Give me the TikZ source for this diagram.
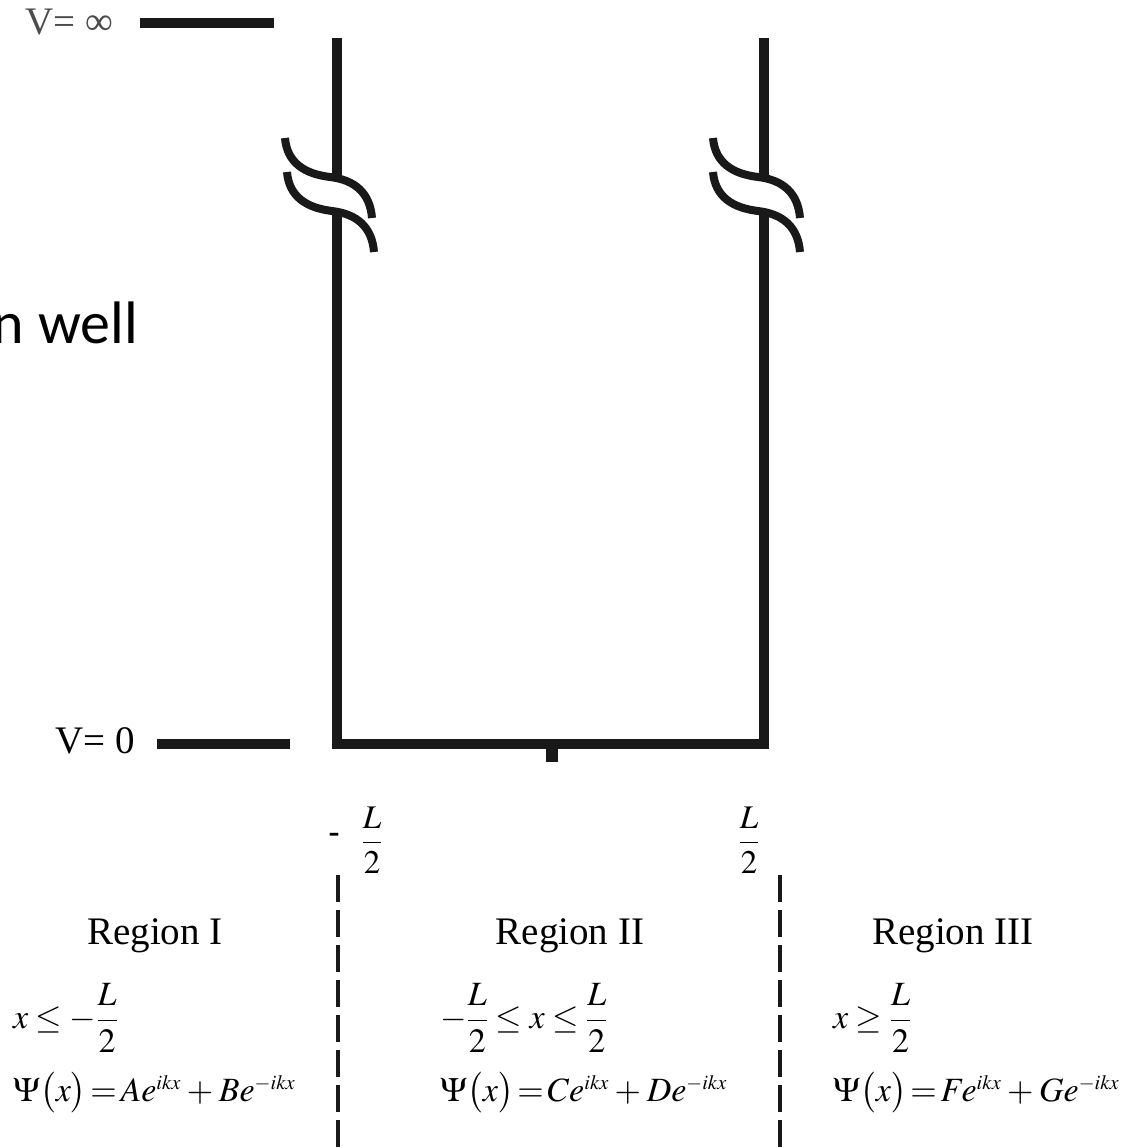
\documentclass[tikz,border=0pt]{standalone}
\usepackage{mathptmx}
\usepackage[no-math]{fontspec}
\setmainfont{Liberation Serif}
\newfontfamily\calibri{Carlito}
\newcommand{\wavefn}[2]{$\thickmuskip=2mu\medmuskip=3mu\Psi\bigl(x\bigr)=#1e^{\scriptscriptstyle ikx}+#2e^{\scriptscriptstyle -ikx}$}
\begin{document}
\begin{tikzpicture}[x=1pt,y=1pt,
  wall/.style={line width=10.5pt, draw=black!90},
  brkline/.style={line width=8pt, draw=black!90},
  lbl/.style={inner sep=0pt, font=\fontsize{39}{46}\selectfont},
  fraclbl/.style={inner sep=0pt, font=\fontsize{33}{40}\selectfont},
  eq/.style={inner sep=0pt, anchor=west, font=\fontsize{34}{40}\selectfont},
  divider/.style={line width=4pt, draw=black!90, dash pattern=on 27pt off 8pt},
  brk/.pic={\draw[brkline] (0,0) .. controls (2,-25) and (20,-36) .. (45,-39) .. controls (70,-42) and (85,-55) .. (87,-80);}
]
\useasboundingbox (0,0) rectangle (1121,-1148);
\clip (0,0) rectangle (1121,-1148);

% title fragment
\node[font=\calibri\fontsize{60}{72}\selectfont, anchor=base east, inner sep=0pt] (title) at (138,-343) {n well};

% potential level labels
\node[lbl, anchor=west, text=black!70] (vinf) at (25,-22) {V= ∞};
\coordinate (vinfA) at (140,-23);
\coordinate (vinfB) at (274,-23);
\draw[wall] (vinfA) -- (vinfB);

\node[lbl, anchor=west] (vzero) at (55,-741) {V= 0};
\coordinate (vzeroA) at (157,-744);
\coordinate (vzeroB) at (290,-744);
\draw[wall] (vzeroA) -- (vzeroB);

% walls
\coordinate (TL) at (337,-38);
\coordinate (TLb) at (337,-176);
\coordinate (BLa) at (337,-212);
\coordinate (BL) at (337,-744);
\coordinate (BR) at (764,-744);
\coordinate (BRa) at (764,-212);
\coordinate (TRb) at (764,-176);
\coordinate (TR) at (764,-38);
\draw[wall] (TL) -- (TLb);
\draw[wall] (TR) -- (TRb);
\draw[wall] (BLa) -- (BL) -- (BR) -- (BRa);

% centre tick
\coordinate (tickA) at (552,-744);
\coordinate (tickB) at (552,-762);
\draw[line width=12pt, draw=black!90] (tickA) -- (tickB);

% break marks
\pic at (285,-138) {brk};
\pic at (287,-172) {brk};
\pic at (713,-138) {brk};
\pic at (713,-172) {brk};

% positions -L/2 and L/2
\node[fraclbl] (minus) at (334,-838) {\textbf{-}};
\node[fraclbl] (mL) at (372,-840) {$\displaystyle\frac{L}{2}$};
\node[fraclbl] (pL) at (749,-840) {$\displaystyle\frac{L}{2}$};

% dividers
\coordinate (d1a) at (338,-875);
\coordinate (d1b) at (338,-1148);
\coordinate (d2a) at (780,-875);
\coordinate (d2b) at (780,-1148);
\draw[divider] (d1a) -- (d1b);
\draw[divider] (d2a) -- (d2b);

% region labels
\node[lbl] (r1) at (155,-936) {Region I};
\node[lbl] (r2) at (570,-936) {Region II};
\node[lbl] (r3) at (953,-936) {Region III};

% conditions
\node[eq] (c1) at (13,-1018) {$x\le-\displaystyle\frac{L}{2}$};
\node[eq] (c2) at (440,-1018) {$-\displaystyle\frac{L}{2}\le x\le\frac{L}{2}$};
\node[eq] (c3) at (833,-1018) {$x\ge\displaystyle\frac{L}{2}$};

% wavefunctions
\node[eq] (p1) at (13,-1093) {\wavefn{A}{B}};
\node[eq] (p2) at (440,-1093) {\wavefn{C}{D}};
\node[eq] (p3) at (833,-1093) {\wavefn{F}{G}};
\end{tikzpicture}
\end{document}
